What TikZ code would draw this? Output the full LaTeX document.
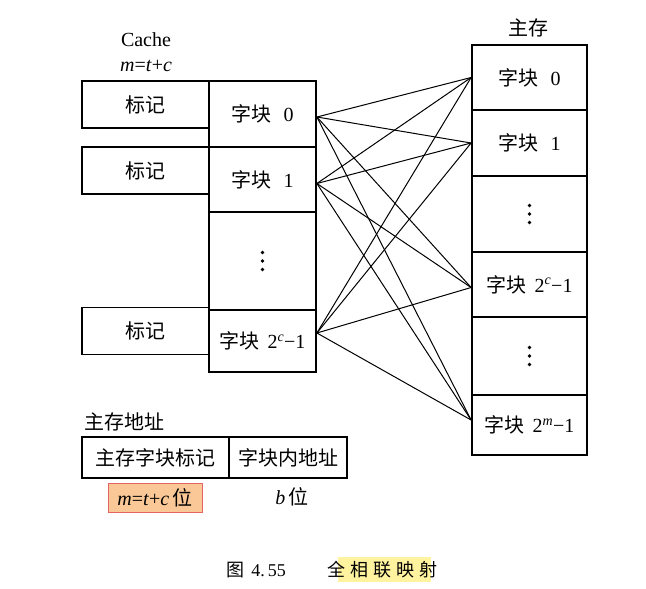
\documentclass[tikz,border=0pt]{standalone}
\usepackage{fontspec}
\setmainfont{Liberation Serif}
\newfontfamily\cjk{Noto Sans CJK SC}
\newcommand{\zh}[1]{{\cjk #1}}
\definecolor{hlorange}{HTML}{FAC896}
\definecolor{hlred}{HTML}{E46464}
\definecolor{hlyellow}{HTML}{FFF3A0}
\begin{document}
\begin{tikzpicture}[x=1pt,y=-1pt,
  txt/.style={inner sep=0pt, font=\fontsize{20}{24}\selectfont},
  cell/.style={txt, draw, line width=1.8pt, minimum width=107pt},
  mcell/.style={txt, draw, line width=1.8pt, minimum width=115pt},
  tagbox/.style={txt, draw, line width=1.8pt, minimum width=127pt, minimum height=47pt},
  link/.style={line width=1pt},
  dot/.style={fill=black}]
\useasboundingbox (0,0) rectangle (646,589);

% Cache tags
\node[tagbox] (t0) at (145.5,104.5) {\zh{标记}};
\node[tagbox] (t1) at (145.5,170.5) {\zh{标记}};
\node[tagbox] (t2) at (145.5,331) {\zh{标记}};

% Cache blocks
\node[cell, minimum height=66pt] (c0) at (262.5,114) {\zh{字块}\hspace{0.6em}0};
\node[cell, minimum height=65pt] (c1) at (262.5,179.5) {\zh{字块}\hspace{0.6em}1};
\node[cell, minimum height=98pt] (cd) at (262.5,261) {};
\node[cell, minimum height=62pt] (c2) at (262.5,341) {\zh{字块}\hspace{0.4em}2\textsuperscript{\textit{c}}−1};

\node[txt] (cachelbl) at (146,40) {Cache};
\node[txt] (cachem) at (146,66) {\textit{m}=\textit{t}+\textit{c}};

% Main memory
\node[txt] (mainlbl) at (528,28) {\zh{主存}};
\node[mcell, minimum height=65pt] (m0) at (529.5,77.5) {\zh{字块}\hspace{0.6em}0};
\node[mcell, minimum height=66pt] (m1) at (529.5,143) {\zh{字块}\hspace{0.6em}1};
\node[mcell, minimum height=76pt] (mda) at (529.5,214) {};
\node[mcell, minimum height=65pt] (m2) at (529.5,284.5) {\zh{字块}\hspace{0.4em}2\textsuperscript{\textit{c}}−1};
\node[mcell, minimum height=78pt] (mdb) at (529.5,356) {};
\node[mcell, minimum height=60pt] (m3) at (529.5,425) {\zh{字块}\hspace{0.4em}2\textsuperscript{\textit{m}}−1};

% vertical dots
\foreach \n in {cd,mda,mdb}
  \foreach \d in {-8.5,0,8.5}
    \fill[dot] ([yshift=\d pt]\n.center) circle (1.8pt);

% connector end points
\coordinate (p0) at ([yshift=-3pt]c0.east);
\coordinate (p1) at ([yshift=-4pt]c1.east);
\coordinate (p2) at ([yshift=8pt]c2.east);
\coordinate (q0) at (m0.west);
\coordinate (q1) at (m1.west);
\coordinate (q2) at ([yshift=-3pt]m2.west);
\coordinate (q3) at ([yshift=5pt]m3.west);

% connectors
\foreach \c in {p0,p1,p2}
  \foreach \m in {q0,q1,q2,q3}
    \draw[link] (\c) -- (\m);

% address format
\node[txt, anchor=west] (addrlbl) at (84,422) {\zh{主存地址}};
\node[txt, draw, line width=1.8pt, minimum width=147pt, minimum height=41pt] (a1) at (155.5,457.5) {\zh{主存字块标记}};
\node[txt, draw, line width=1.8pt, minimum width=118pt, minimum height=41pt] (a2) at (288,457.5) {\zh{字块内地址}};
\node[txt, draw=hlred, fill=hlorange, line width=0.8pt, minimum width=94pt, minimum height=29pt] (w1) at (155,497.5) {\textit{m}=\textit{t}+\textit{c}\,\zh{位}};
\node[txt] (w2) at (292,497) {\textit{b}\,\zh{位}};

% caption
\fill[hlyellow] (338,557) rectangle (431,582);
\node[txt, anchor=west, font=\fontsize{18}{22}\selectfont] (cap1) at (226,570) {\zh{图}\hspace{0.4em}4.\hspace{3pt}55};
\node[txt, anchor=west, font=\fontsize{18}{22}\selectfont] (cap2) at (327,570) {\zh{全}\hspace{5pt}\zh{相}\hspace{5pt}\zh{联}\hspace{5pt}\zh{映}\hspace{5pt}\zh{射}};
\end{tikzpicture}
\end{document}
